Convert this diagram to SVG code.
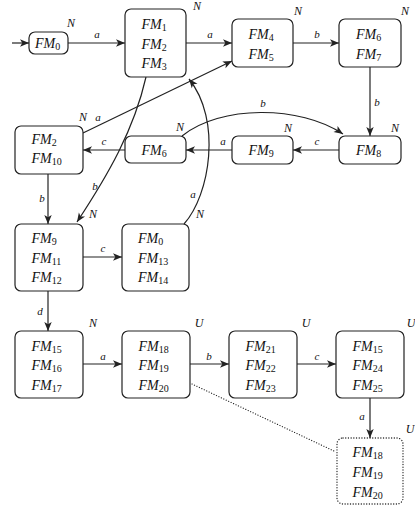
<svg xmlns="http://www.w3.org/2000/svg" width="415" height="510" viewBox="0 0 415 510">
<defs>
<style>
.box{fill:#fff;stroke:#222;stroke-width:1.2}
.dot{fill:#fff;stroke:#222;stroke-width:1.3;stroke-dasharray:0.1 2.6;stroke-linecap:round}
.fm{font-family:"Liberation Serif",serif;font-style:italic;font-size:14px;fill:#111}
.sub{font-style:normal;font-size:10px}
.lab{font-family:"Liberation Serif",serif;font-style:italic;font-size:12px;fill:#111;text-anchor:middle}
.el{font-family:"Liberation Serif",serif;font-style:italic;font-size:11px;fill:#111;text-anchor:middle}
.e{fill:none;stroke:#222;stroke-width:1.2;marker-end:url(#arr)}
.d{fill:none;stroke:#222;stroke-width:1.2;stroke-dasharray:0.1 2.6;stroke-linecap:round}
</style>
<marker id="arr" markerUnits="userSpaceOnUse" markerWidth="11" markerHeight="10" refX="9.5" refY="5" orient="auto">
<path d="M0.5,1.3 L9.5,5 L0.5,8.7 L2.8,5 z" fill="#222"/>
</marker>
</defs>
<rect width="415" height="510" fill="#fff"/>

<g id="connectors">
<path class="e" d="M12,43 L29,43"/>
<path class="e" d="M68,43 L125,43"/>
<path class="e" d="M186,43 L232,43"/>
<path class="e" d="M293,43 L339,43"/>
<path class="e" d="M370,67 L370,136"/>
<path class="e" d="M339,150 L293,150"/>
<path class="e" d="M232,150 L186,150"/>
<path class="e" d="M125,150 L83,150"/>
<path class="e" d="M83,133 L232,61"/>
<path class="e" d="M48,174 L48,224"/>
<path class="e" d="M83,257 L122,257"/>
<path class="e" d="M48,291 L48,331"/>
<path class="e" d="M83,364 L122,364"/>
<path class="e" d="M190,364 L229,364"/>
<path class="e" d="M297,364 L336,364"/>
<path class="e" d="M370,398 L370,438"/>
<path class="d" d="M192,384 L336,452"/>
<path class="e" d="M146,77 C134,130 108,175 77,222"/>
<path class="e" d="M184,224 C210,195 222,120 189,79"/>
<path class="e" d="M182,136 C220,105 300,105 343,134"/>
<text class="el" x="97" y="38">a</text>
<text class="el" x="210" y="38">a</text>
<text class="el" x="317" y="38">b</text>
<text class="el" x="377" y="106">b</text>
<text class="el" x="317" y="145">c</text>
<text class="el" x="223" y="145">a</text>
<text class="el" x="104" y="145">c</text>
<text class="el" x="263" y="107">b</text>
<text class="el" x="98" y="121">a</text>
<text class="el" x="95" y="190">b</text>
<text class="el" x="193" y="198">a</text>
<text class="el" x="42" y="202">b</text>
<text class="el" x="103" y="252">c</text>
<text class="el" x="40" y="315">d</text>
<text class="el" x="103" y="360">a</text>
<text class="el" x="209" y="360">b</text>
<text class="el" x="317" y="360">c</text>
<text class="el" x="362" y="420">a</text>
</g>

<g id="n0">
<rect class="box" x="29" y="32" width="39" height="22" rx="6"/>
<text class="fm" x="35" y="47.5">FM<tspan class="sub" dy="2">0</tspan></text>
<text class="lab" x="71" y="27">N</text>
</g>
<g id="n1">
<rect class="box" x="125" y="9" width="61" height="68" rx="6"/>
<text class="fm" x="141.5" y="29">FM<tspan class="sub" dy="2">1</tspan></text>
<text class="fm" x="141.5" y="48.5">FM<tspan class="sub" dy="2">2</tspan></text>
<text class="fm" x="141.5" y="68">FM<tspan class="sub" dy="2">3</tspan></text>
<text class="lab" x="197" y="9.5">N</text>
</g>
<g id="n2">
<rect class="box" x="232" y="19" width="61" height="48" rx="6"/>
<text class="fm" x="248.5" y="39">FM<tspan class="sub" dy="2">4</tspan></text>
<text class="fm" x="248.5" y="59">FM<tspan class="sub" dy="2">5</tspan></text>
<text class="lab" x="298" y="15">N</text>
</g>
<g id="n3">
<rect class="box" x="339" y="19" width="62" height="48" rx="6"/>
<text class="fm" x="356" y="39">FM<tspan class="sub" dy="2">6</tspan></text>
<text class="fm" x="356" y="59">FM<tspan class="sub" dy="2">7</tspan></text>
<text class="lab" x="405" y="15">N</text>
</g>
<g id="n4">
<rect class="box" x="15" y="126" width="68" height="48" rx="6"/>
<text class="fm" x="31.5" y="143.5">FM<tspan class="sub" dy="2">2</tspan></text>
<text class="fm" x="31.5" y="163">FM<tspan class="sub" dy="2">10</tspan></text>
<text class="lab" x="83" y="121">N</text>
</g>
<g id="n5">
<rect class="box" x="125" y="136" width="61" height="27" rx="6"/>
<text class="fm" x="141.5" y="154.5">FM<tspan class="sub" dy="2">6</tspan></text>
<text class="lab" x="180" y="131">N</text>
</g>
<g id="n6">
<rect class="box" x="232" y="136" width="61" height="28" rx="6"/>
<text class="fm" x="248.5" y="154.5">FM<tspan class="sub" dy="2">9</tspan></text>
<text class="lab" x="288" y="132">N</text>
</g>
<g id="n7">
<rect class="box" x="339" y="136" width="62" height="28" rx="6"/>
<text class="fm" x="356" y="154.5">FM<tspan class="sub" dy="2">8</tspan></text>
<text class="lab" x="395" y="132">N</text>
</g>
<g id="n8">
<rect class="box" x="15" y="224" width="68" height="67" rx="6"/>
<text class="fm" x="31.5" y="243">FM<tspan class="sub" dy="2">9</tspan></text>
<text class="fm" x="31.5" y="262.5">FM<tspan class="sub" dy="2">11</tspan></text>
<text class="fm" x="31.5" y="282">FM<tspan class="sub" dy="2">12</tspan></text>
<text class="lab" x="93" y="218">N</text>
</g>
<g id="n9">
<rect class="box" x="122" y="224" width="67" height="67" rx="6"/>
<text class="fm" x="138" y="243">FM<tspan class="sub" dy="2">0</tspan></text>
<text class="fm" x="138" y="262.5">FM<tspan class="sub" dy="2">13</tspan></text>
<text class="fm" x="138" y="282">FM<tspan class="sub" dy="2">14</tspan></text>
<text class="lab" x="200" y="218">N</text>
</g>
<g id="n10">
<rect class="box" x="15" y="331" width="68" height="67" rx="6"/>
<text class="fm" x="31.5" y="350.5">FM<tspan class="sub" dy="2">15</tspan></text>
<text class="fm" x="31.5" y="370">FM<tspan class="sub" dy="2">16</tspan></text>
<text class="fm" x="31.5" y="389.5">FM<tspan class="sub" dy="2">17</tspan></text>
<text class="lab" x="93" y="327">N</text>
</g>
<g id="n11">
<rect class="box" x="122" y="331" width="68" height="67" rx="6"/>
<text class="fm" x="138.5" y="350.5">FM<tspan class="sub" dy="2">18</tspan></text>
<text class="fm" x="138.5" y="370">FM<tspan class="sub" dy="2">19</tspan></text>
<text class="fm" x="138.5" y="389.5">FM<tspan class="sub" dy="2">20</tspan></text>
<text class="lab" x="199" y="327">U</text>
</g>
<g id="n12">
<rect class="box" x="229" y="331" width="68" height="67" rx="6"/>
<text class="fm" x="245.5" y="350.5">FM<tspan class="sub" dy="2">21</tspan></text>
<text class="fm" x="245.5" y="370">FM<tspan class="sub" dy="2">22</tspan></text>
<text class="fm" x="245.5" y="389.5">FM<tspan class="sub" dy="2">23</tspan></text>
<text class="lab" x="306" y="327">U</text>
</g>
<g id="n13">
<rect class="box" x="336" y="331" width="68" height="67" rx="6"/>
<text class="fm" x="352.5" y="350.5">FM<tspan class="sub" dy="2">15</tspan></text>
<text class="fm" x="352.5" y="370">FM<tspan class="sub" dy="2">24</tspan></text>
<text class="fm" x="352.5" y="389.5">FM<tspan class="sub" dy="2">25</tspan></text>
<text class="lab" x="411" y="327">U</text>
</g>
<g id="n14">
<rect class="dot" x="337" y="438" width="66" height="66" rx="6"/>
<text class="fm" x="352.5" y="457">FM<tspan class="sub" dy="2">18</tspan></text>
<text class="fm" x="352.5" y="477">FM<tspan class="sub" dy="2">19</tspan></text>
<text class="fm" x="352.5" y="496.5">FM<tspan class="sub" dy="2">20</tspan></text>
<text class="lab" x="410" y="433">U</text>
</g>
</svg>
